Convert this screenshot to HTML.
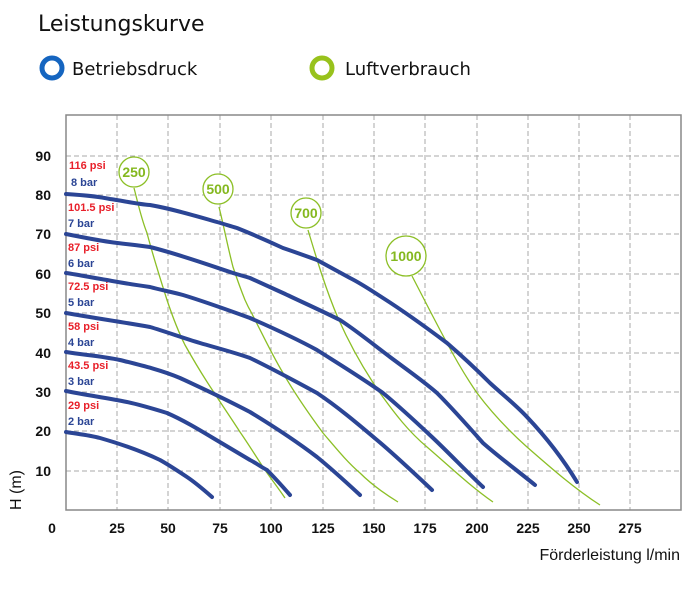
<!DOCTYPE html>
<html><head><meta charset="utf-8"><style>
body{margin:0;background:#fff;}
svg{display:block;}
</style></head><body>
<svg id="s" width="692" height="593" xmlns="http://www.w3.org/2000/svg">
<text x="38" y="31" font-family="DejaVu Sans, sans-serif" font-size="22" fill="#111">Leistungskurve</text>
<circle cx="52" cy="68" r="10" fill="none" stroke="#1565c0" stroke-width="5"/>
<text x="72" y="75" font-family="DejaVu Sans, sans-serif" font-size="18" fill="#111">Betriebsdruck</text>
<circle cx="322" cy="68" r="10" fill="none" stroke="#98c21c" stroke-width="5"/>
<text x="345" y="75" font-family="DejaVu Sans, sans-serif" font-size="18" fill="#111">Luftverbrauch</text>

<g stroke="#aaa" stroke-width="1" stroke-dasharray="5,3" fill="none">
<path d="M117 115V510M168 115V510M220 115V510M271 115V510M323 115V510M374 115V510M425 115V510M477 115V510M528 115V510M579 115V510M630 115V510"/>
<path d="M66 156H681M66 195H681M66 234H681M66 274H681M66 313H681M66 353H681M66 392H681M66 431H681M66 471H681"/>
</g>
<rect x="66" y="115" width="615" height="395" fill="none" stroke="#888" stroke-width="1.5"/>

<g font-family="Liberation Sans, sans-serif" font-size="14" font-weight="bold" fill="#111" text-anchor="end">
<text x="51" y="161">90</text><text x="51" y="200">80</text><text x="51" y="239">70</text><text x="51" y="279">60</text><text x="51" y="318">50</text><text x="51" y="358">40</text><text x="51" y="397">30</text><text x="51" y="436">20</text><text x="51" y="476">10</text>
</g>
<g font-family="Liberation Sans, sans-serif" font-size="14" font-weight="bold" fill="#111" text-anchor="middle">
<text x="52" y="533">0</text><text x="117" y="533">25</text><text x="168" y="533">50</text><text x="220" y="533">75</text><text x="271" y="533">100</text><text x="323" y="533">125</text><text x="374" y="533">150</text><text x="425" y="533">175</text><text x="477" y="533">200</text><text x="528" y="533">225</text><text x="579" y="533">250</text><text x="630" y="533">275</text>
</g>
<text x="680" y="560" text-anchor="end" font-family="Liberation Sans, sans-serif" font-size="16" fill="#111">Förderleistung l/min</text>
<text transform="translate(21,490) rotate(-90)" text-anchor="middle" font-family="Liberation Sans, sans-serif" font-size="16" fill="#111">H (m)</text>

<g font-family="Liberation Sans, sans-serif" font-size="11" font-weight="bold">
<text x="69" y="169" fill="#e8202a">116 psi</text><text x="71" y="186" fill="#2b4595">8 bar</text>
<text x="68" y="211" fill="#e8202a">101.5 psi</text><text x="68" y="227" fill="#2b4595">7 bar</text>
<text x="68" y="251" fill="#e8202a">87 psi</text><text x="68" y="267" fill="#2b4595">6 bar</text>
<text x="68" y="290" fill="#e8202a">72.5 psi</text><text x="68" y="306" fill="#2b4595">5 bar</text>
<text x="68" y="330" fill="#e8202a">58 psi</text><text x="68" y="346" fill="#2b4595">4 bar</text>
<text x="68" y="369" fill="#e8202a">43.5 psi</text><text x="68" y="385" fill="#2b4595">3 bar</text>
<text x="68" y="409" fill="#e8202a">29 psi</text><text x="68" y="425" fill="#2b4595">2 bar</text>
</g>

<g id="green" fill="none" stroke="#8cbf26" stroke-width="1.3" stroke-linejoin="round">
<path d="M134,188 C138,203 141,218 147,233 C153,256 160,278 167,300 C173,318 178,331 185,345 C194,361 203,376 213,391 C222,405 231,418 240,432 C249,445 257,458 265,470 C272,480 279,489 285,498"/>
<path d="M219,207 C224,227 228,248 233,267 C237,279 241,290 245,300 C247,304 248,307 250,310 C261,331 271,353 283,373 C295,394 309,414 323,433 C335,447 347,462 360,473 C372,485 385,494 398,502"/>
<path d="M308,230 C317,260 326,290 338,318 C350,345 364,370 380,393 C395,414 409,432 427,447 C448,465 470,486 493,502"/>
<path d="M412,276 C424,299 435,321 447,343 C456,360 466,377 477,393 C492,413 508,430 527,447 C551,468 575,489 600,505"/>
<circle cx="134" cy="172" r="15" fill="#fff"/>
<circle cx="218" cy="189" r="15" fill="#fff"/>
<circle cx="306" cy="213" r="15" fill="#fff"/>
<circle cx="406" cy="256" r="20" fill="#fff"/>
</g>
<g font-family="Liberation Sans, sans-serif" font-size="14" font-weight="bold" fill="#84b81f" text-anchor="middle">
<text x="134" y="177">250</text><text x="218" y="194">500</text><text x="306" y="218">700</text><text x="406" y="261">1000</text>
</g>

<g fill="none" stroke="#2b4595" stroke-width="4" stroke-linecap="round" stroke-linejoin="round">
<path d="M66,194 C81,195 96,196 110,199 C124,201 137,204 150,205 C173,209 196,216 217,222 C224,224 230,226 237,228 C252,234 268,241 283,248 C295,252 306,256 317,260 C328,266 339,272 350,278 C362,284 372,291 383,298 C405,312 427,328 447,343 C462,356 476,369 490,383 C503,395 516,405 527,417 C545,436 563,459 577,482"/>
<path d="M66,234 C81,237 96,240 110,242 C124,244 137,245 150,247 C178,254 206,264 233,273 C239,275 244,276 250,278 C261,283 272,288 283,293 C302,302 322,311 340,320 C357,331 374,345 390,357 C406,369 422,380 437,393 C453,409 468,426 483,443 C500,458 518,471 535,485"/>
<path d="M66,273 C80,275 94,278 107,280 C122,283 136,285 150,287 C161,290 172,292 183,295 C206,302 228,310 250,318 C273,328 295,338 317,350 C339,364 362,378 383,393 C400,407 416,422 432,437 C449,453 466,471 483,487"/>
<path d="M66,313 C94,318 122,322 150,327 C167,332 183,338 200,343 C217,348 233,352 250,358 C273,369 295,381 317,393 C338,407 358,424 377,440 C396,456 414,473 432,490"/>
<path d="M66,352 C84,355 102,356 120,360 C140,365 161,370 180,378 C204,389 227,400 250,412 C273,426 296,441 317,457 C333,470 347,483 360,495"/>
<path d="M66,391 C86,395 107,398 127,402 C141,405 154,409 167,413 C183,420 198,429 213,438 C225,445 238,453 250,460 C256,463 261,467 267,470 C275,478 283,487 290,495"/>
<path d="M66,432 C78,434 89,435 100,438 C121,444 141,451 160,460 C169,465 178,471 187,477 C196,483 204,490 212,497"/>
</g>
</svg>
</body></html>
